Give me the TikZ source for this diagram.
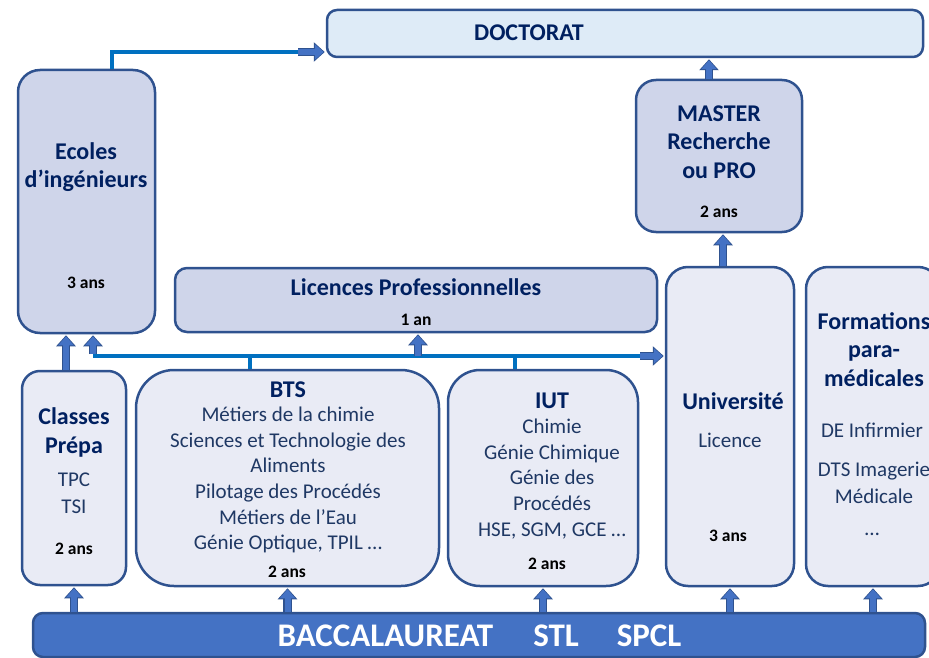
\documentclass[tikz,border=0pt]{standalone}
\usepackage{fontspec}
\setmainfont{Carlito}
\usetikzlibrary{arrows.meta}
\usetikzlibrary{positioning}

\definecolor{edgeblue}{HTML}{2F528F}
\definecolor{darkfill}{HTML}{CFD5EA}
\definecolor{lightfill}{HTML}{E9EBF5}
\definecolor{docfill}{HTML}{DEEBF7}
\definecolor{barblue}{HTML}{4472C4}
\definecolor{linkblue}{HTML}{0070C0}
\definecolor{navytext}{HTML}{002060}
\definecolor{bodytext}{HTML}{1F3864}

\begin{document}
\begin{tikzpicture}[x=1pt,y=-1pt,
    box/.style={draw=edgeblue,line width=2.5pt,inner sep=0pt},
    title/.style={font=\fontsize{24}{28.5}\selectfont\bfseries,text=navytext,align=center},
    body/.style={font=\fontsize{21}{25.6}\selectfont,text=bodytext,align=center},
    years/.style={font=\fontsize{17.5}{20}\selectfont\bfseries,text=black},
    up/.style={draw=barblue,line width=6pt,-{Triangle[length=9pt,width=15pt]},shorten >=2pt,
      preaction={draw=edgeblue,line width=8.5pt,-{Triangle[length=11pt,width=19pt]},shorten >=1pt}},
    link/.style={draw=linkblue,line width=4pt}]
  \useasboundingbox (0,0) rectangle (929,658);
  \clip (0,0) rectangle (929,658);

  % boxes
  \node[box,fill=docfill,rounded corners=10pt,minimum width=596pt,minimum height=47pt] (doc) at (625,33.5) {};
  \node[box,fill=darkfill,rounded corners=22pt,minimum width=137pt,minimum height=263pt] (ecoles) at (86.5,201.5) {};
  \node[box,fill=darkfill,rounded corners=20pt,minimum width=166pt,minimum height=152pt] (master) at (719,156) {};
  \node[box,fill=darkfill,rounded corners=12pt,minimum width=482pt,minimum height=64pt] (lp) at (416,300) {};
  \node[box,fill=lightfill,rounded corners=18pt,minimum width=104pt,minimum height=214pt] (prepa) at (74,478) {};
  \node[box,fill=lightfill,rounded corners=38pt,minimum width=303pt,minimum height=216pt] (bts) at (287.5,478) {};
  \node[box,fill=lightfill,rounded corners=32pt,minimum width=190pt,minimum height=216pt] (iut) at (543,478) {};
  \node[box,fill=lightfill,rounded corners=22pt,minimum width=128pt,minimum height=319pt] (univ) at (730,426.5) {};
  \node[box,fill=lightfill,rounded corners=22pt,minimum width=134pt,minimum height=319pt] (para) at (873,426.5) {};
  \node[box,fill=barblue,rounded corners=10pt,minimum width=892pt,minimum height=44pt] (bac) at (479,635) {};

  % texts
  \node[title] (docT) at (529,33) {DOCTORAT};
  \node[title] (ecolesT) at (86,167) {Ecoles\\d’ingénieurs};
  \node[years] (ecolesY) at (86,283) {3 ans};
  \node[title] (masterT) at (719,142) {MASTER\\Recherche\\ou PRO};
  \node[years] (masterY) at (719,212) {2 ans};
  \node[title] (lpT) at (416,287) {Licences Professionnelles};
  \node[years] (lpY) at (416,320) {1 an};
  \node[title] (prepaT) at (74,432.5) {Classes\\Prépa};
  \node[body,font=\fontsize{21}{27}\selectfont] (prepaB) at (74,493.5) {TPC\\TSI};
  \node[years] (prepaY) at (74,549) {2 ans};
  \node[title] (btsT) at (288,390) {BTS};
  \node[body] (btsB) at (288,480) {Métiers de la chimie\\Sciences et Technologie des\\Aliments\\Pilotage des Procédés\\Métiers de l’Eau\\Génie Optique, TPIL …};
  \node[years] (btsY) at (287,572) {2 ans};
  \node[title] (iutT) at (552,401) {IUT};
  \node[body] (iutB) at (552,479) {Chimie\\Génie Chimique\\Génie des\\Procédés\\HSE, SGM, GCE …};
  \node[years] (iutY) at (547,564) {2 ans};
  \node[title] (univT) at (733,401) {Université};
  \node[body] (univB) at (730,440) {Licence};
  \node[years] (univY) at (728,536) {3 ans};
  \node[title] (paraT) at (874,349.5) {Formations\\para-\\médicales};
  \node[body] (paraB1) at (872,430) {DE Infirmier};
  \node[body,font=\fontsize{21}{27}\selectfont] (paraB2) at (874,482.5) {DTS Imagerie\\Médicale};
  \node[body] (paraB3) at (872,534) {…};
  \node[font=\fontsize{33}{36}\selectfont\bfseries,text=white] (bacT) at (479.5,636)
    {BACCALAUREAT\hspace{40pt}STL\hspace{38pt}SPCL};

  % from the bac
  \foreach \n in {prepa,bts,iut,univ,para}
    \draw[up] (\n.south |- bac.north) -- (\n.south);

  % upward links
  \draw[up] ([xshift=-8pt]prepa.north) -- ([xshift=-8pt]prepa.north |- ecoles.south);
  \draw[up] ([xshift=-7pt]univ.north) -- ([xshift=-7pt]univ.north |- master.south);
  \draw[up] ([xshift=-10pt]master.north) -- ([xshift=-10pt]master.north |- doc.south);

  % shared line under the licences
  \coordinate (hubL) at (93,356);
  \coordinate (hubR) at (640,356);
  \coordinate (btsTap) at (250,356);
  \coordinate (iutTap) at (515,356);
  \coordinate (lpTap) at (418,356);
  \draw[link] (hubL) -- (hubR);
  \draw[link] (btsTap) -- (bts.north -| btsTap);
  \draw[link] (iutTap) -- (iut.north -| iutTap);
  \draw[up] ([yshift=2pt]hubL) -- (ecoles.south -| hubL);
  \draw[up] (lpTap) -- (lp.south -| lpTap);
  \draw[up] (hubR) -- (univ.west |- hubR);

  % ecoles to doctorat
  \coordinate (docIn) at (298,52);
  \draw[link] ([xshift=25.5pt]ecoles.north) |- ([xshift=2pt]docIn);
  \draw[up] (docIn) -- (doc.west |- docIn);
\end{tikzpicture}
\end{document}
